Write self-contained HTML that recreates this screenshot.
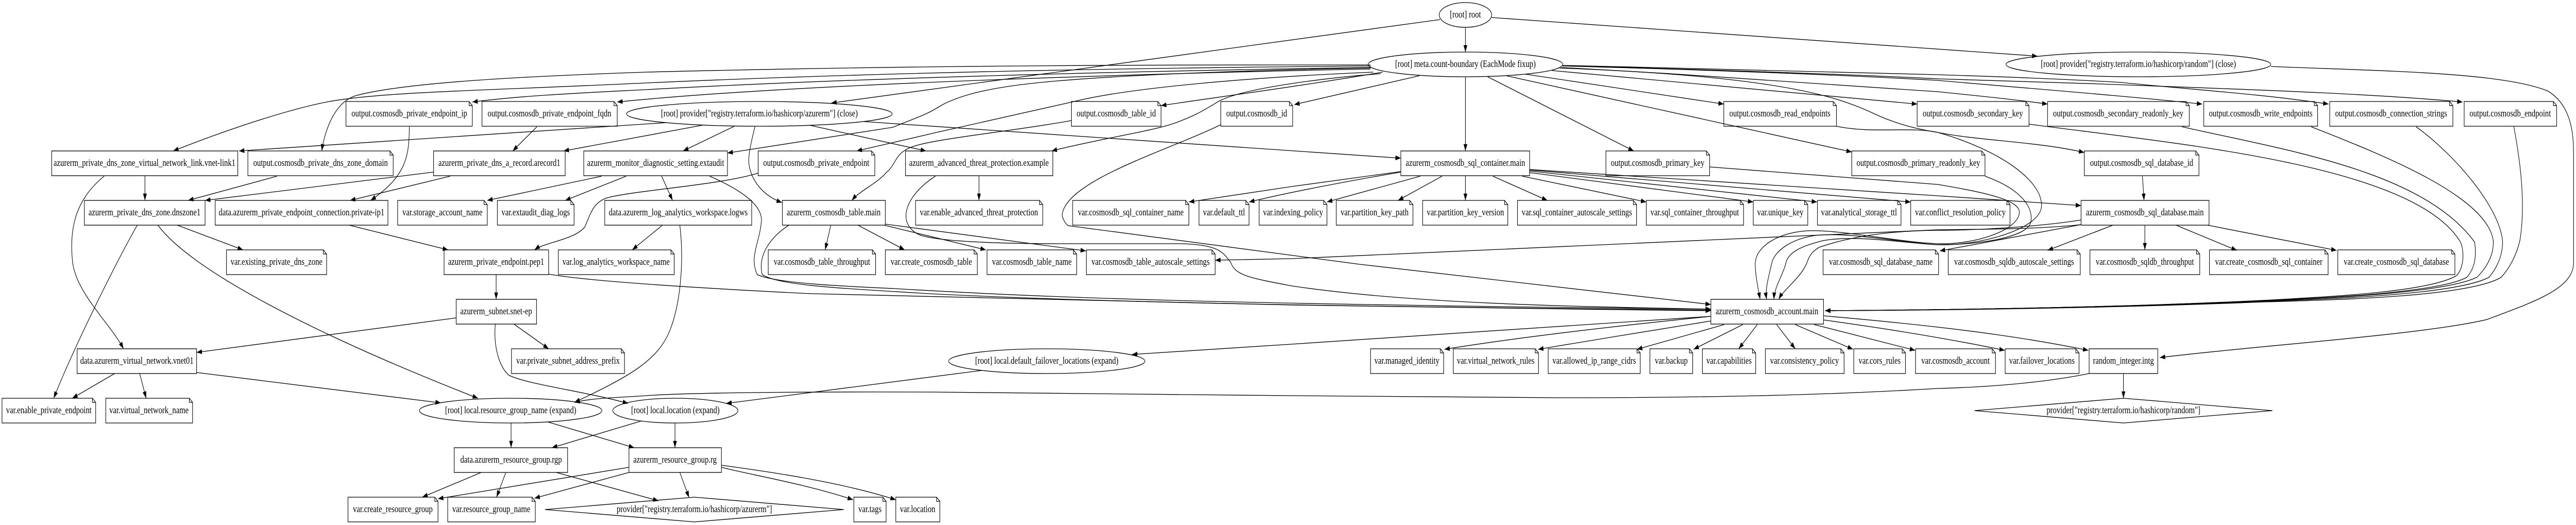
<!DOCTYPE html>
<html>
<head>
<meta charset="utf-8">
<title>Terraform graph</title>
<style>
html,body{margin:0;padding:0;background:#fff;width:100%;height:100%;overflow:hidden}
svg{display:block;width:100vw;height:100vh}
#n path,#n rect,#n ellipse{fill:#fff;stroke:#000;stroke-width:1.33}
#t text{font-family:"Liberation Serif",serif;font-size:18.67px;text-anchor:middle;fill:#000}
#e path{fill:none;stroke:#000;stroke-width:1.33;marker-end:url(#a)}
</style>
</head>
<body>
<svg viewBox="0 0 6381 1019" preserveAspectRatio="none" xmlns="http://www.w3.org/2000/svg">
<defs><marker id="a" markerUnits="userSpaceOnUse" markerWidth="15" markerHeight="11" refX="13.3" refY="5" orient="auto"><path d="M0 .3L13.3 5L0 9.7z" fill="#000"/></marker></defs>
<rect width="6381" height="1019" fill="#fff"/>
<g id="n">
<ellipse cx="3630" cy="29" rx="65" ry="24"/>
<ellipse cx="3630" cy="125" rx="241" ry="24"/>
<ellipse cx="5297" cy="125" rx="328" ry="24"/>
<ellipse cx="1881" cy="221" rx="329" ry="24"/>
<ellipse cx="2593" cy="701" rx="243" ry="24"/>
<ellipse cx="1265" cy="797" rx="226" ry="24"/>
<ellipse cx="1673" cy="797" rx="155" ry="24"/>
<path d="M4891 797L5260 773L5629 797L5260 821Z"/>
<path d="M1350 989L1720 965L2090 989L1720 1013Z"/>
<rect x="128" y="293" width="461" height="48"/>
<rect x="1074" y="293" width="326" height="48"/>
<rect x="1446" y="293" width="356" height="48"/>
<rect x="2243" y="293" width="365" height="48"/>
<rect x="3470" y="293" width="319" height="48"/>
<rect x="209" y="389" width="299" height="48"/>
<rect x="533" y="389" width="428" height="48"/>
<rect x="1498" y="389" width="364" height="48"/>
<rect x="1938" y="389" width="255" height="48"/>
<rect x="5155" y="389" width="317" height="48"/>
<rect x="1100" y="485" width="259" height="48"/>
<rect x="1130" y="581" width="199" height="48"/>
<rect x="4238" y="581" width="279" height="48"/>
<rect x="191" y="677" width="296" height="48"/>
<rect x="5175" y="677" width="170" height="48"/>
<rect x="1125" y="869" width="281" height="48"/>
<rect x="1558" y="869" width="229" height="48"/>
<path d="M857 197H1162L1170 205V245H857ZM1162 197V205H1170"/>
<path d="M1194 197H1521L1529 205V245H1194ZM1521 197V205H1529"/>
<path d="M2654 197H2868L2876 205V245H2654ZM2868 197V205H2876"/>
<path d="M3024 197H3194L3202 205V245H3024ZM3194 197V205H3202"/>
<path d="M4270 197H4541L4549 205V245H4270ZM4541 197V205H4549"/>
<path d="M4749 197H5018L5026 205V245H4749ZM5018 197V205H5026"/>
<path d="M5072 197H5415L5423 205V245H5072ZM5415 197V205H5423"/>
<path d="M5459 197H5733L5741 205V245H5459ZM5733 197V205H5741"/>
<path d="M5771 197H6068L6076 205V245H5771ZM6068 197V205H6076"/>
<path d="M6104 197H6325L6333 205V245H6104ZM6325 197V205H6333"/>
<path d="M614 293H966L974 301V341H614ZM966 293V301H974"/>
<path d="M1878 293H2159L2167 301V341H1878ZM2159 293V301H2167"/>
<path d="M3978 293H4227L4235 301V341H3978ZM4227 293V301H4235"/>
<path d="M4587 293H4909L4917 301V341H4587ZM4909 293V301H4917"/>
<path d="M5163 293H5439L5447 301V341H5163ZM5439 293V301H5447"/>
<path d="M985 389H1199L1207 397V437H985ZM1199 389V397H1207"/>
<path d="M1232 389H1414L1422 397V437H1232ZM1414 389V397H1422"/>
<path d="M2268 389H2575L2583 397V437H2268ZM2575 389V397H2583"/>
<path d="M2657 389H2937L2945 397V437H2657ZM2937 389V397H2945"/>
<path d="M2970 389H3086L3094 397V437H2970ZM3086 389V397H3094"/>
<path d="M3119 389H3279L3287 397V437H3119ZM3279 389V397H3287"/>
<path d="M3310 389H3492L3500 397V437H3310ZM3492 389V397H3500"/>
<path d="M3524 389H3727L3735 397V437H3524ZM3727 389V397H3735"/>
<path d="M3759 389H4046L4054 397V437H3759ZM4046 389V397H4054"/>
<path d="M4078 389H4311L4319 397V437H4078ZM4311 389V397H4319"/>
<path d="M4343 389H4470L4478 397V437H4343ZM4470 389V397H4478"/>
<path d="M4502 389H4701L4709 397V437H4502ZM4701 389V397H4709"/>
<path d="M4733 389H4971L4979 397V437H4733ZM4971 389V397H4979"/>
<path d="M561 485H801L809 493V533H561ZM801 485V493H809"/>
<path d="M1383 485H1662L1670 493V533H1383ZM1662 485V493H1670"/>
<path d="M1903 485H2161L2169 493V533H1903ZM2161 485V493H2169"/>
<path d="M2193 485H2413L2421 493V533H2193ZM2413 485V493H2421"/>
<path d="M2445 485H2659L2667 493V533H2445ZM2659 485V493H2667"/>
<path d="M2691 485H3002L3010 493V533H2691ZM3002 485V493H3010"/>
<path d="M4516 485H4794L4802 493V533H4516ZM4794 485V493H4802"/>
<path d="M4826 485H5145L5153 493V533H4826ZM5145 485V493H5153"/>
<path d="M5177 485H5441L5449 493V533H5177ZM5441 485V493H5449"/>
<path d="M5473 485H5759L5767 493V533H5473ZM5759 485V493H5767"/>
<path d="M5791 485H6073L6081 493V533H5791ZM6073 485V493H6081"/>
<path d="M1267 677H1539L1547 685V725H1267ZM1539 677V685H1547"/>
<path d="M3395 677H3568L3576 685V725H3395ZM3568 677V685H3576"/>
<path d="M3600 677H3803L3811 685V725H3600ZM3803 677V685H3811"/>
<path d="M3835 677H4055L4063 685V725H3835ZM4055 677V685H4063"/>
<path d="M4087 677H4185L4193 685V725H4087ZM4185 677V685H4193"/>
<path d="M4217 677H4341L4349 685V725H4217ZM4341 677V685H4349"/>
<path d="M4373 677H4560L4568 685V725H4373ZM4560 677V685H4568"/>
<path d="M4592 677H4712L4720 685V725H4592ZM4712 677V685H4720"/>
<path d="M4745 677H4935L4943 685V725H4745ZM4935 677V685H4943"/>
<path d="M4967 677H5142L5150 685V725H4967ZM5142 677V685H5150"/>
<path d="M5 773H229L237 781V821H5ZM229 773V781H237"/>
<path d="M262 773H469L477 781V821H262ZM469 773V781H477"/>
<path d="M862 965H1077L1085 973V1013H862ZM1077 965V973H1085"/>
<path d="M1109 965H1318L1326 973V1013H1109ZM1318 965V973H1326"/>
<path d="M2115 965H2187L2195 973V1013H2115ZM2187 965V973H2195"/>
<path d="M2219 965H2320L2328 973V1013H2219ZM2320 965V973H2328"/>
</g>
<g id="t">
<text x="3630" y="34">[root] root</text>
<text x="3630" y="130">[root] meta.count-boundary (EachMode fixup)</text>
<text x="5297" y="130">[root] provider["registry.terraform.io/hashicorp/random"] (close)</text>
<text x="1014" y="226">output.cosmosdb_private_endpoint_ip</text>
<text x="1361" y="226">output.cosmosdb_private_endpoint_fqdn</text>
<text x="1881" y="226">[root] provider["registry.terraform.io/hashicorp/azurerm"] (close)</text>
<text x="2765" y="226">output.cosmosdb_table_id</text>
<text x="3113" y="226">output.cosmosdb_id</text>
<text x="4409" y="226">output.cosmosdb_read_endpoints</text>
<text x="4887" y="226">output.cosmosdb_secondary_key</text>
<text x="5247" y="226">output.cosmosdb_secondary_readonly_key</text>
<text x="5600" y="226">output.cosmosdb_write_endpoints</text>
<text x="5923" y="226">output.cosmosdb_connection_strings</text>
<text x="6218" y="226">output.cosmosdb_endpoint</text>
<text x="358" y="322">azurerm_private_dns_zone_virtual_network_link.vnet-link1</text>
<text x="794" y="322">output.cosmosdb_private_dns_zone_domain</text>
<text x="1237" y="322">azurerm_private_dns_a_record.arecord1</text>
<text x="1624" y="322">azurerm_monitor_diagnostic_setting.extaudit</text>
<text x="2022" y="322">output.cosmosdb_private_endpoint</text>
<text x="2425" y="322">azurerm_advanced_threat_protection.example</text>
<text x="3630" y="322">azurerm_cosmosdb_sql_container.main</text>
<text x="4106" y="322">output.cosmosdb_primary_key</text>
<text x="4752" y="322">output.cosmosdb_primary_readonly_key</text>
<text x="5305" y="322">output.cosmosdb_sql_database_id</text>
<text x="358" y="418">azurerm_private_dns_zone.dnszone1</text>
<text x="747" y="418">data.azurerm_private_endpoint_connection.private-ip1</text>
<text x="1096" y="418">var.storage_account_name</text>
<text x="1327" y="418">var.extaudit_diag_logs</text>
<text x="1680" y="418">data.azurerm_log_analytics_workspace.logws</text>
<text x="2065" y="418">azurerm_cosmosdb_table.main</text>
<text x="2425" y="418">var.enable_advanced_threat_protection</text>
<text x="2801" y="418">var.cosmosdb_sql_container_name</text>
<text x="3032" y="418">var.default_ttl</text>
<text x="3203" y="418">var.indexing_policy</text>
<text x="3405" y="418">var.partition_key_path</text>
<text x="3630" y="418">var.partition_key_version</text>
<text x="3906" y="418">var.sql_container_autoscale_settings</text>
<text x="4198" y="418">var.sql_container_throughput</text>
<text x="4410" y="418">var.unique_key</text>
<text x="4605" y="418">var.analytical_storage_ttl</text>
<text x="4856" y="418">var.conflict_resolution_policy</text>
<text x="5313" y="418">azurerm_cosmosdb_sql_database.main</text>
<text x="685" y="514">var.existing_private_dns_zone</text>
<text x="1229" y="514">azurerm_private_endpoint.pep1</text>
<text x="1526" y="514">var.log_analytics_workspace_name</text>
<text x="2036" y="514">var.cosmosdb_table_throughput</text>
<text x="2307" y="514">var.create_cosmosdb_table</text>
<text x="2556" y="514">var.cosmosdb_table_name</text>
<text x="2850" y="514">var.cosmosdb_table_autoscale_settings</text>
<text x="4659" y="514">var.cosmosdb_sql_database_name</text>
<text x="4989" y="514">var.cosmosdb_sqldb_autoscale_settings</text>
<text x="5313" y="514">var.cosmosdb_sqldb_throughput</text>
<text x="5620" y="514">var.create_cosmosdb_sql_container</text>
<text x="5936" y="514">var.create_cosmosdb_sql_database</text>
<text x="1229" y="610">azurerm_subnet.snet-ep</text>
<text x="4377" y="610">azurerm_cosmosdb_account.main</text>
<text x="339" y="706">data.azurerm_virtual_network.vnet01</text>
<text x="1407" y="706">var.private_subnet_address_prefix</text>
<text x="2593" y="706">[root] local.default_failover_locations (expand)</text>
<text x="3485" y="706">var.managed_identity</text>
<text x="3705" y="706">var.virtual_network_rules</text>
<text x="3949" y="706">var.allowed_ip_range_cidrs</text>
<text x="4140" y="706">var.backup</text>
<text x="4283" y="706">var.capabilities</text>
<text x="4470" y="706">var.consistency_policy</text>
<text x="4656" y="706">var.cors_rules</text>
<text x="4844" y="706">var.cosmosdb_account</text>
<text x="5058" y="706">var.failover_locations</text>
<text x="5260" y="706">random_integer.intg</text>
<text x="121" y="802">var.enable_private_endpoint</text>
<text x="369" y="802">var.virtual_network_name</text>
<text x="1265" y="802">[root] local.resource_group_name (expand)</text>
<text x="1673" y="802">[root] local.location (expand)</text>
<text x="5260" y="802">provider["registry.terraform.io/hashicorp/random"]</text>
<text x="1266" y="898">data.azurerm_resource_group.rgp</text>
<text x="1672" y="898">azurerm_resource_group.rg</text>
<text x="973" y="994">var.create_resource_group</text>
<text x="1217" y="994">var.resource_group_name</text>
<text x="1720" y="994">provider["registry.terraform.io/hashicorp/azurerm"]</text>
<text x="2155" y="994">var.tags</text>
<text x="2273" y="994">var.location</text>
</g>
<g id="e">
<path d="M3630 53L3630 101"/>
<path d="M3567 38L2059 200"/>
<path d="M3695 34L5047 109"/>
<path d="M3395 126L3200 126C2600 126 2100 130 1600 140C1300 148 1000 160 880 186C825 200 803 260 797 293"/>
<path d="M3395 128C2800 132 2200 140 1600 161C1200 176 950 178 816 197C740 208 600 240 429 293"/>
<path d="M3395 131C2800 138 2100 152 1600 174C1450 180 1300 185 1170 198"/>
<path d="M3395 134C3000 140 2000 160 1529 198"/>
<path d="M3395 132C3100 136 2800 145 2620 157C2450 168 2380 185 2335 203C2290 225 2280 225 2212 247L1802 297"/>
<path d="M3402 140C3100 150 2800 170 2661 197C2540 218 2300 260 2122 293"/>
<path d="M3420 143C3300 150 3080 170 3018 197C2980 215 2960 225 2906 240C2850 255 2720 270 2605 293"/>
<path d="M3425 140C3200 170 3000 190 2876 205"/>
<path d="M3516 147L3206 203"/>
<path d="M3630 149L3630 293"/>
<path d="M3685 149L4047 293"/>
<path d="M3731 147L4587 295"/>
<path d="M3779 144L4270 202"/>
<path d="M3845 137L4749 202"/>
<path d="M3863 132C4050 138 4400 150 4578 200C4630 214 4650 225 4680 233C4720 245 4760 252 4800 257C4900 273 5050 275 5163 296"/>
<path d="M3868 131C4200 145 4600 165 4800 178C4900 186 5000 194 5072 202"/>
<path d="M3871 128C4200 135 4550 145 4800 156C5000 170 5250 185 5455 202"/>
<path d="M3870 127C4200 133 4550 138 4800 145C5000 150 5150 155 5254 160C5400 172 5600 182 5768 202"/>
<path d="M3870 127C4200 135 4550 143 4800 153C5000 158 5100 160 5203 163C5500 172 5850 180 6100 198"/>
<path d="M1651 238L592 293"/>
<path d="M1740 243L1396 293"/>
<path d="M1819 245L1692 293"/>
<path d="M1870 246C1862 272 1853 300 1855 317C1860 350 1890 380 1937 393"/>
<path d="M2005 243L2294 293"/>
<path d="M2141 236L3470 307"/>
<path d="M1014 246C1013 300 1010 340 918 389"/>
<path d="M1330 246L1270 293"/>
<path d="M686 342L466 389"/>
<path d="M359 341L359 389"/>
<path d="M258 342C190 385 170 440 180 510C190 570 275 630 306 677"/>
<path d="M1074 334L508 389"/>
<path d="M1115 342L867 389"/>
<path d="M1490 342L1207 389"/>
<path d="M1551 342L1400 389"/>
<path d="M1639 342L1666 389"/>
<path d="M1758 342C1840 370 1890 400 1886 430C1882 470 1855 500 1876 533C1920 550 2100 556 2212 560C2600 578 3000 590 4238 600"/>
<path d="M1878 336C1780 360 1560 370 1500 385C1470 395 1465 410 1449 440C1425 465 1350 470 1324 485"/>
<path d="M2654 234C2500 256 2300 270 2253 287C2215 300 2220 320 2195 335C2175 355 2130 370 2110 389"/>
<path d="M3024 242C2900 290 2640 350 2631 417C2632 425 2640 435 2646 438L3368 513L4238 591"/>
<path d="M2425 342L2425 389"/>
<path d="M2317 342C2250 375 2215 430 2275 455C2320 470 2500 473 2620 473L2927 473C3020 475 3030 490 3049 510C3060 535 3100 540 3200 555C3500 590 3900 595 4238 600"/>
<path d="M2058 437L2044 485"/>
<path d="M2125 437L2241 485"/>
<path d="M2190 437L2442 485"/>
<path d="M2193 435L2690 487"/>
<path d="M1954 437C1900 465 1878 500 1888 533C1930 555 2100 560 2300 570C2800 590 3500 596 4238 602"/>
<path d="M1641 437L1566 485"/>
<path d="M1684 437C1695 510 1685 590 1660 640C1630 700 1560 730 1423 781"/>
<path d="M865 437L1110 485"/>
<path d="M439 437L602 485"/>
<path d="M340 437C280 520 180 680 133 773"/>
<path d="M391 437C470 520 750 640 1184 773"/>
<path d="M1229 533L1229 581"/>
<path d="M1359 532C1450 545 1700 558 2008 570C2400 578 2800 585 3200 592C3600 598 3900 600 4238 603"/>
<path d="M1130 617L487 684"/>
<path d="M1273 629L1359 677"/>
<path d="M1227 629C1222 670 1235 710 1260 728C1300 745 1450 760 1556 783"/>
<path d="M284 725L179 773"/>
<path d="M346 725L362 773"/>
<path d="M487 723L1092 782"/>
<path d="M1266 821L1266 869"/>
<path d="M1357 819L1571 869"/>
<path d="M1589 817L1367 869"/>
<path d="M1672 821L1672 869"/>
<path d="M2432 719L1799 783"/>
<path d="M4238 614L3200 668L2804 688"/>
<path d="M5175 725C5050 745 4900 752 4800 754C4500 768 4200 772 3863 772C3600 772 3400 770 3200 768L2314 761C2000 760 1700 762 1600 768C1530 772 1470 772 1423 781"/>
<path d="M4238 614C4100 625 3800 650 3578 678"/>
<path d="M4238 623C4100 640 3950 660 3810 678"/>
<path d="M4271 630L4055 678"/>
<path d="M4317 630L4195 678"/>
<path d="M4353 630L4307 677"/>
<path d="M4401 630L4447 677"/>
<path d="M4447 630L4590 678"/>
<path d="M4494 630L4744 680"/>
<path d="M4517 621C4620 632 4800 653 4966 680"/>
<path d="M4517 613C4620 620 4800 633 4950 650C5040 660 5110 670 5173 680"/>
<path d="M5260 725L5260 773"/>
<path d="M5625 129C5900 138 6200 140 6312 177C6370 205 6375 260 6375 300L6375 510C6375 560 6280 585 6161 620C6000 650 5600 670 5350 694"/>
<path d="M1192 917L1046 965"/>
<path d="M1253 917L1230 965"/>
<path d="M1378 917L1631 972"/>
<path d="M1558 907L1085 968"/>
<path d="M1558 917L1324 967"/>
<path d="M1684 917L1707 966"/>
<path d="M1787 907C1850 920 2000 940 2113 970"/>
<path d="M1787 903C1900 915 2080 935 2219 970"/>
<path d="M3470 333L3200 362L2945 392"/>
<path d="M3470 334C3350 350 3200 372 3094 392"/>
<path d="M3518 342L3287 392"/>
<path d="M3572 342L3463 389"/>
<path d="M3630 341L3630 389"/>
<path d="M3698 342L3833 389"/>
<path d="M3771 342L4078 392"/>
<path d="M3789 335L4343 392"/>
<path d="M3789 332L4501 392"/>
<path d="M3789 330L4733 392"/>
<path d="M3789 329L4800 380L5155 399"/>
<path d="M4235 324L4800 358C4930 375 5005 390 5002 413C5000 445 4900 475 4800 473C4700 470 4560 445 4476 448C4400 452 4350 480 4348 510C4347 530 4355 560 4360 581"/>
<path d="M4917 342C5000 365 5040 400 5030 433C5015 462 4900 475 4800 475C4700 470 4580 450 4496 457C4430 465 4395 490 4389 510C4382 535 4372 560 4376 581"/>
<path d="M4549 245C4640 260 4730 245 4800 257C4950 290 5060 350 5057 400C5055 445 4900 478 4800 475C4730 473 4600 455 4516 467C4460 478 4430 490 4424 510C4416 535 4396 555 4394 581"/>
<path d="M5155 427C5050 440 4900 447 4800 447C4700 448 4600 455 4506 480C4490 488 4482 495 4476 510C4460 540 4420 560 4406 581"/>
<path d="M5155 436C5050 445 4900 445 4800 446L3200 502L3010 505"/>
<path d="M5155 436L4805 487"/>
<path d="M5234 437L5072 486"/>
<path d="M5313 437L5313 485"/>
<path d="M5390 437L5541 486"/>
<path d="M5468 437L5788 486"/>
<path d="M5307 342L5311 389"/>
<path d="M5026 241C5400 280 5980 320 6095 470C6105 490 6103 520 6085 535C6020 565 5800 575 5607 583C5300 595 4900 601 4521 603"/>
<path d="M5405 246C5650 290 6000 330 6130 470C6135 500 6130 520 6111 538C6050 565 5800 578 5607 583C5300 595 4900 601 4521 603"/>
<path d="M5725 246C5900 300 6160 380 6176 467C6178 490 6165 515 6136 538C6060 567 5800 578 5607 584C5300 595 4900 601 4521 603"/>
<path d="M5985 246C6080 300 6190 400 6199 467C6200 490 6190 515 6166 538C6090 570 5800 580 5607 585C5300 596 4900 601 4521 603"/>
<path d="M6227 246C6245 320 6256 400 6242 467C6235 490 6222 515 6196 538C6120 575 5800 582 5607 586C5300 596 4900 602 4521 603"/>
</g>
</svg>
</body>
</html>
